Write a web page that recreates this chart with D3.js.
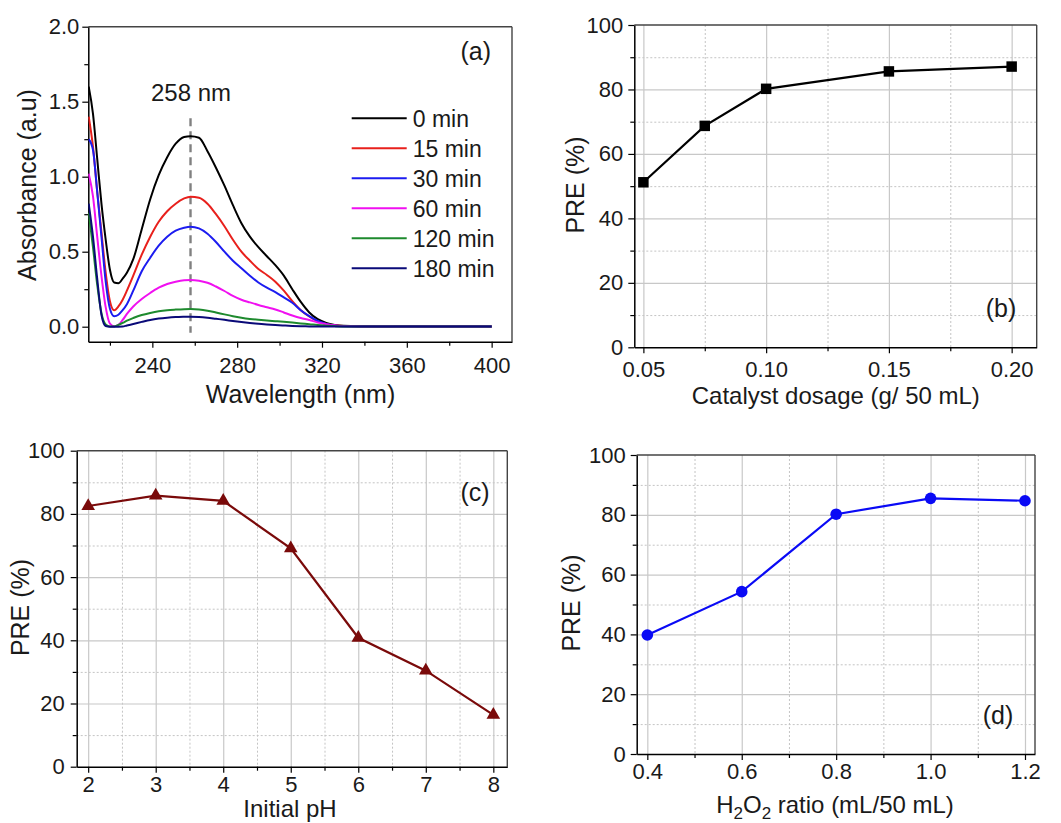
<!DOCTYPE html>
<html>
<head>
<meta charset="utf-8">
<script src="https://cdn.jsdelivr.net/npm/d3@7"></script>
<style>
  body { margin: 0; background: #fff; }
  svg text { font-family: "Liberation Sans", Arial, Helvetica, sans-serif; fill: #1a1a1a; }
</style>
</head>
<body>
<svg id="fig" width="1061" height="823"></svg>
<script>
// ---------- (a) UV-vis spectra ----------
const wavelength = [210,212,214,216,218,220,222,224,226,228,231,235,239,243,247,251,255,258,262,266,270,274,278,282,286,290,294,298,302,306,310,314,318,322,326,330,340,350,360,370,380,390,400];
const abs0min   = [1.60,1.42,1.12,0.82,0.58,0.38,0.295,0.29,0.32,0.36,0.45,0.65,0.85,1.01,1.13,1.22,1.265,1.27,1.26,1.17,1.06,0.94,0.81,0.69,0.60,0.53,0.47,0.41,0.34,0.25,0.165,0.095,0.05,0.025,0.012,0.006,0.003,0.002,0.003,0.002,0.002,0.003,0.002];
const abs15min  = [1.40,1.20,0.90,0.63,0.36,0.17,0.11,0.135,0.18,0.24,0.34,0.48,0.60,0.70,0.77,0.82,0.855,0.867,0.86,0.82,0.75,0.67,0.58,0.50,0.44,0.385,0.345,0.30,0.24,0.17,0.11,0.068,0.035,0.018,0.009,0.004,0.002,0.002,0.001,0.002,0.001,0.001,0.001];
const abs30min  = [1.25,1.18,0.90,0.60,0.30,0.12,0.07,0.08,0.11,0.15,0.24,0.37,0.46,0.54,0.60,0.64,0.66,0.667,0.655,0.62,0.565,0.50,0.44,0.39,0.34,0.295,0.26,0.23,0.195,0.16,0.11,0.07,0.038,0.018,0.008,0.003,0.002,0.001,0.001,0.001,0.001,0.001,0.001];
const abs60min  = [1.02,0.87,0.60,0.34,0.13,0.02,0.003,0.012,0.045,0.085,0.135,0.185,0.225,0.26,0.285,0.30,0.31,0.312,0.307,0.293,0.268,0.238,0.205,0.18,0.162,0.145,0.13,0.115,0.095,0.075,0.058,0.045,0.028,0.017,0.009,0.004,0.002,0.002,0.001,0.001,0.001,0.001,0.001];
const abs120min = [0.76,0.53,0.28,0.09,0.015,0.002,0.002,0.012,0.025,0.04,0.058,0.078,0.092,0.103,0.11,0.114,0.117,0.118,0.115,0.107,0.095,0.082,0.07,0.06,0.052,0.046,0.041,0.037,0.033,0.028,0.022,0.017,0.011,0.007,0.004,0.002,0.001,0.001,0.001,0.001,0.001,0.001,0.001];
const abs180min = [0.82,0.60,0.32,0.08,0.005,0.0,0.0,0.0,0.001,0.008,0.018,0.032,0.045,0.054,0.06,0.064,0.066,0.067,0.065,0.06,0.053,0.046,0.038,0.031,0.025,0.02,0.015,0.011,0.008,0.005,0.003,0.002,0.001,0.001,0.001,0.001,0.001,0.001,0.001,0.001,0.001,0.001,0.001];
const spectraNames  = ["0 min","15 min","30 min","60 min","120 min","180 min"];
const spectraColors = ["#000000","#e8201c","#1c1cf0","#f010f0","#1e8a2e","#0a0a78"];
const spectraValues = [abs0min, abs15min, abs30min, abs60min, abs120min, abs180min];
const peakWavelength = 258;

// ---------- (b) catalyst dosage ----------
const dosage    = [0.05, 0.075, 0.10, 0.15, 0.20];
const dosagePRE = [51.2, 68.7, 80.2, 85.6, 87.1];

// ---------- (c) initial pH ----------
const phValues = [2, 3, 4, 5, 6, 7, 8];
const phPRE    = [82.5, 85.8, 84.1, 69.1, 40.8, 30.4, 16.4];

// ---------- (d) H2O2 ratio ----------
const h2o2Ratio = [0.4, 0.6, 0.8, 1.0, 1.2];
const h2o2PRE   = [39.8, 54.3, 80.2, 85.5, 84.7];

const svg = d3.select("#fig");

function makePanel(box, xDomain, yDomain) {
  const w = box.right - box.left, h = box.bottom - box.top;
  const g = svg.append("g").attr("transform", `translate(${box.left},${box.top})`);
  const x = d3.scaleLinear().domain(xDomain).range([0, w]);
  const y = d3.scaleLinear().domain(yDomain).range([h, 0]);
  return { g, x, y, w, h };
}

function drawGrid(p, xMajor, xMinor, yMajor, yMinor) {
  const grid = p.g.append("g");
  const minorX = grid.append("g").call(d3.axisBottom(p.x).tickValues(xMinor).tickSize(p.h).tickFormat(""));
  const minorY = grid.append("g").call(d3.axisLeft(p.y).tickValues(yMinor).tickSize(-p.w).tickFormat(""));
  const majorX = grid.append("g").call(d3.axisBottom(p.x).tickValues(xMajor).tickSize(p.h).tickFormat(""));
  const majorY = grid.append("g").call(d3.axisLeft(p.y).tickValues(yMajor).tickSize(-p.w).tickFormat(""));
  grid.selectAll(".domain").remove();
  [minorX, minorY].forEach(s => s.selectAll("line").attr("stroke", "#c4c4c4").attr("stroke-width", 1).attr("stroke-dasharray", "2,2"));
  [majorX, majorY].forEach(s => s.selectAll("line").attr("stroke", "#c8c8c8").attr("stroke-width", 1.2));
}

function drawAxes(p, o) {
  // top and right frame
  p.g.append("line").attr("x1", 0).attr("x2", p.w).attr("y1", 0).attr("y2", 0)
    .attr("stroke", "#444").attr("stroke-width", 1.4);
  p.g.append("line").attr("x1", p.w).attr("x2", p.w).attr("y1", 0).attr("y2", p.h)
    .attr("stroke", "#444").attr("stroke-width", 1.4);

  const xa = p.g.append("g").attr("transform", `translate(0,${p.h})`);
  xa.append("g").call(d3.axisBottom(p.x).tickValues(o.xMinor).tickSize(4).tickFormat(""))
    .call(s => s.select(".domain").remove());
  xa.append("g").call(d3.axisBottom(p.x).tickValues(o.xMajor).tickSize(6).tickSizeOuter(0)
      .tickPadding(o.xPad).tickFormat(o.xFmt));

  const ya = p.g.append("g");
  ya.append("g").call(d3.axisLeft(p.y).tickValues(o.yMinor).tickSize(4).tickFormat(""))
    .call(s => s.select(".domain").remove());
  ya.append("g").call(d3.axisLeft(p.y).tickValues(o.yMajor).tickSize(6).tickSizeOuter(0)
      .tickPadding(o.yPad).tickFormat(o.yFmt));

  [xa, ya].forEach(a => {
    a.selectAll(".domain").attr("stroke", "#000").attr("stroke-width", 1.5);
    a.selectAll(".tick line").attr("stroke", "#000").attr("stroke-width", 1.2);
    a.selectAll("text").attr("font-size", 22).attr("fill", "#1a1a1a")
      .style("font-family", '"Liberation Sans", Arial, sans-serif');
  });
}

function axisTitles(p, xt, yt) {
  const xText = p.g.append("text").attr("text-anchor", "middle")
    .attr("x", xt.x).attr("y", xt.y).attr("font-size", xt.size || 24);
  if (xt.parts) {
    xt.parts.forEach(part => xText.append("tspan").text(part.t)
      .attr("dy", part.dy || 0).attr("font-size", part.size || null));
  } else xText.text(xt.text);
  p.g.append("text").attr("text-anchor", "middle").attr("font-size", 25)
    .attr("transform", `translate(${yt.x},${yt.y}) rotate(-90)`).text(yt.text);
}

function panelTag(p, t, x, y) {
  p.g.append("text").attr("x", x).attr("y", y).attr("text-anchor", "middle")
    .attr("font-size", 25).text(t);
}

// ===== Panel (a) =====
{
  const p = makePanel({ left: 88.3, right: 512, top: 26.7, bottom: 341.7 }, [209.8, 409.6], [-0.1, 2.0]);
  drawAxes(p, {
    xMajor: [240, 280, 320, 360, 400], xMinor: [220, 260, 300, 340, 380], xPad: 10, xFmt: d3.format("d"),
    yMajor: [0, 0.5, 1.0, 1.5, 2.0], yMinor: [0.25, 0.75, 1.25, 1.75], yPad: 3, yFmt: d3.format(".1f")
  });

  p.g.append("clipPath").attr("id", "clipA").append("rect")
    .attr("width", p.w).attr("height", p.h);
  const plot = p.g.append("g").attr("clip-path", "url(#clipA)");

  // dashed marker of the absorption maximum
  plot.append("line")
    .attr("x1", p.x(peakWavelength)).attr("x2", p.x(peakWavelength))
    .attr("y1", p.y(1.39)).attr("y2", p.y(-0.04))
    .attr("stroke", "#808080").attr("stroke-width", 2.4).attr("stroke-dasharray", "8,5");

  const line = d3.line().x((d, i) => p.x(wavelength[i])).y(d => p.y(d)).curve(d3.curveMonotoneX);
  spectraValues.forEach((vals, k) => {
    plot.append("path").datum(vals).attr("d", line).attr("fill", "none")
      .attr("stroke", spectraColors[k]).attr("stroke-width", 2).attr("stroke-linejoin", "round");
  });

  p.g.append("text").attr("x", p.x(peakWavelength) + 0.5).attr("y", 101 - 26.7)
    .attr("text-anchor", "middle").attr("font-size", 24).text(`${peakWavelength} nm`);

  // legend
  const lg = p.g.append("g").attr("transform", `translate(${351.7 - 88.3},${118.3 - 26.7})`);
  spectraNames.forEach((name, k) => {
    const row = lg.append("g").attr("transform", `translate(0,${k * 30})`);
    row.append("line").attr("x1", 0).attr("x2", 55).attr("stroke", spectraColors[k]).attr("stroke-width", 2);
    row.append("text").attr("x", 61).attr("dy", "0.36em").attr("font-size", 23).text(name);
  });

  panelTag(p, "(a)", 475.8 - 88.3, 60 - 26.7);
  axisTitles(p, { text: "Wavelength (nm)", x: 300.5 - 88.3, y: 403 - 26.7, size: 25 },
    { text: "Absorbance (a.u)", x: 36 - 88.3, y: 185 - 26.7 });
}

// ===== Panel (b) =====
{
  const p = makePanel({ left: 634.3, right: 1036.7, top: 25, bottom: 347.3 }, [0.0463, 0.2102], [0, 100]);
  drawGrid(p, [0.05, 0.10, 0.15, 0.20], [0.075, 0.125, 0.175], [20, 40, 60, 80], [10, 30, 50, 70, 90]);
  drawAxes(p, {
    xMajor: [0.05, 0.10, 0.15, 0.20], xMinor: [0.075, 0.125, 0.175], xPad: 8, xFmt: d3.format(".2f"),
    yMajor: [0, 20, 40, 60, 80, 100], yMinor: [10, 30, 50, 70, 90], yPad: 5, yFmt: d3.format("d")
  });
  const line = d3.line().x((d, i) => p.x(dosage[i])).y(d => p.y(d));
  p.g.append("path").datum(dosagePRE).attr("d", line).attr("fill", "none")
    .attr("stroke", "#000").attr("stroke-width", 2.2);
  p.g.selectAll(".mk").data(dosagePRE).enter().append("path")
    .attr("transform", (d, i) => `translate(${p.x(dosage[i])},${p.y(d)})`)
    .attr("d", d3.symbol().type(d3.symbolSquare).size(110)).attr("fill", "#000");
  panelTag(p, "(b)", 1001 - 634.3, 317 - 25);
  axisTitles(p, { text: "Catalyst dosage (g/ 50 mL)", x: 835.8 - 634.3, y: 404 - 25 },
    { text: "PRE (%)", x: 584 - 634.3, y: 185 - 25 });
}

// ===== Panel (c) =====
{
  const p = makePanel({ left: 76.7, right: 507.3, top: 450.7, bottom: 766.7 }, [1.83, 8.207], [0, 100]);
  drawGrid(p, [2, 3, 4, 5, 6, 7, 8], [2.5, 3.5, 4.5, 5.5, 6.5, 7.5], [20, 40, 60, 80], [10, 30, 50, 70, 90]);
  drawAxes(p, {
    xMajor: [2, 3, 4, 5, 6, 7, 8], xMinor: [2.5, 3.5, 4.5, 5.5, 6.5, 7.5], xPad: 4, xFmt: d3.format("d"),
    yMajor: [0, 20, 40, 60, 80, 100], yMinor: [10, 30, 50, 70, 90], yPad: 6, yFmt: d3.format("d")
  });
  const line = d3.line().x((d, i) => p.x(phValues[i])).y(d => p.y(d));
  p.g.append("path").datum(phPRE).attr("d", line).attr("fill", "none")
    .attr("stroke", "#7a0a0a").attr("stroke-width", 2.2);
  p.g.selectAll(".mk").data(phPRE).enter().append("path")
    .attr("transform", (d, i) => `translate(${p.x(phValues[i])},${p.y(d)})`)
    .attr("d", d3.symbol().type(d3.symbolTriangle).size(80)).attr("fill", "#7a0a0a");
  panelTag(p, "(c)", 475 - 76.7, 501 - 450.7);
  axisTitles(p, { text: "Initial pH", x: 290 - 76.7, y: 817 - 450.7 },
    { text: "PRE (%)", x: 29 - 76.7, y: 607.5 - 450.7 });
}

// ===== Panel (d) =====
{
  const p = makePanel({ left: 636.7, right: 1035, top: 455, bottom: 754 }, [0.3775, 1.2212], [0, 100]);
  drawGrid(p, [0.4, 0.6, 0.8, 1.0, 1.2], [0.5, 0.7, 0.9, 1.1], [20, 40, 60, 80], [10, 30, 50, 70, 90]);
  drawAxes(p, {
    xMajor: [0.4, 0.6, 0.8, 1.0, 1.2], xMinor: [0.5, 0.7, 0.9, 1.1], xPad: 3, xFmt: d3.format(".1f"),
    yMajor: [0, 20, 40, 60, 80, 100], yMinor: [10, 30, 50, 70, 90], yPad: 5, yFmt: d3.format("d")
  });
  const line = d3.line().x((d, i) => p.x(h2o2Ratio[i])).y(d => p.y(d));
  p.g.append("path").datum(h2o2PRE).attr("d", line).attr("fill", "none")
    .attr("stroke", "#0a0af5").attr("stroke-width", 2.2);
  p.g.selectAll(".mk").data(h2o2PRE).enter().append("circle")
    .attr("cx", (d, i) => p.x(h2o2Ratio[i])).attr("cy", d => p.y(d)).attr("r", 5.8).attr("fill", "#0a0af5");
  panelTag(p, "(d)", 998 - 636.7, 724 - 455);
  axisTitles(p, {
    x: 835 - 636.7, y: 813 - 455,
    parts: [{ t: "H" }, { t: "2", dy: 6, size: 17 }, { t: "O", dy: -6 }, { t: "2", dy: 6, size: 17 }, { t: " ratio (mL/50 mL)", dy: -6 }]
  }, { text: "PRE (%)", x: 580 - 636.7, y: 603 - 455 });
}
</script>
</body>
</html>
